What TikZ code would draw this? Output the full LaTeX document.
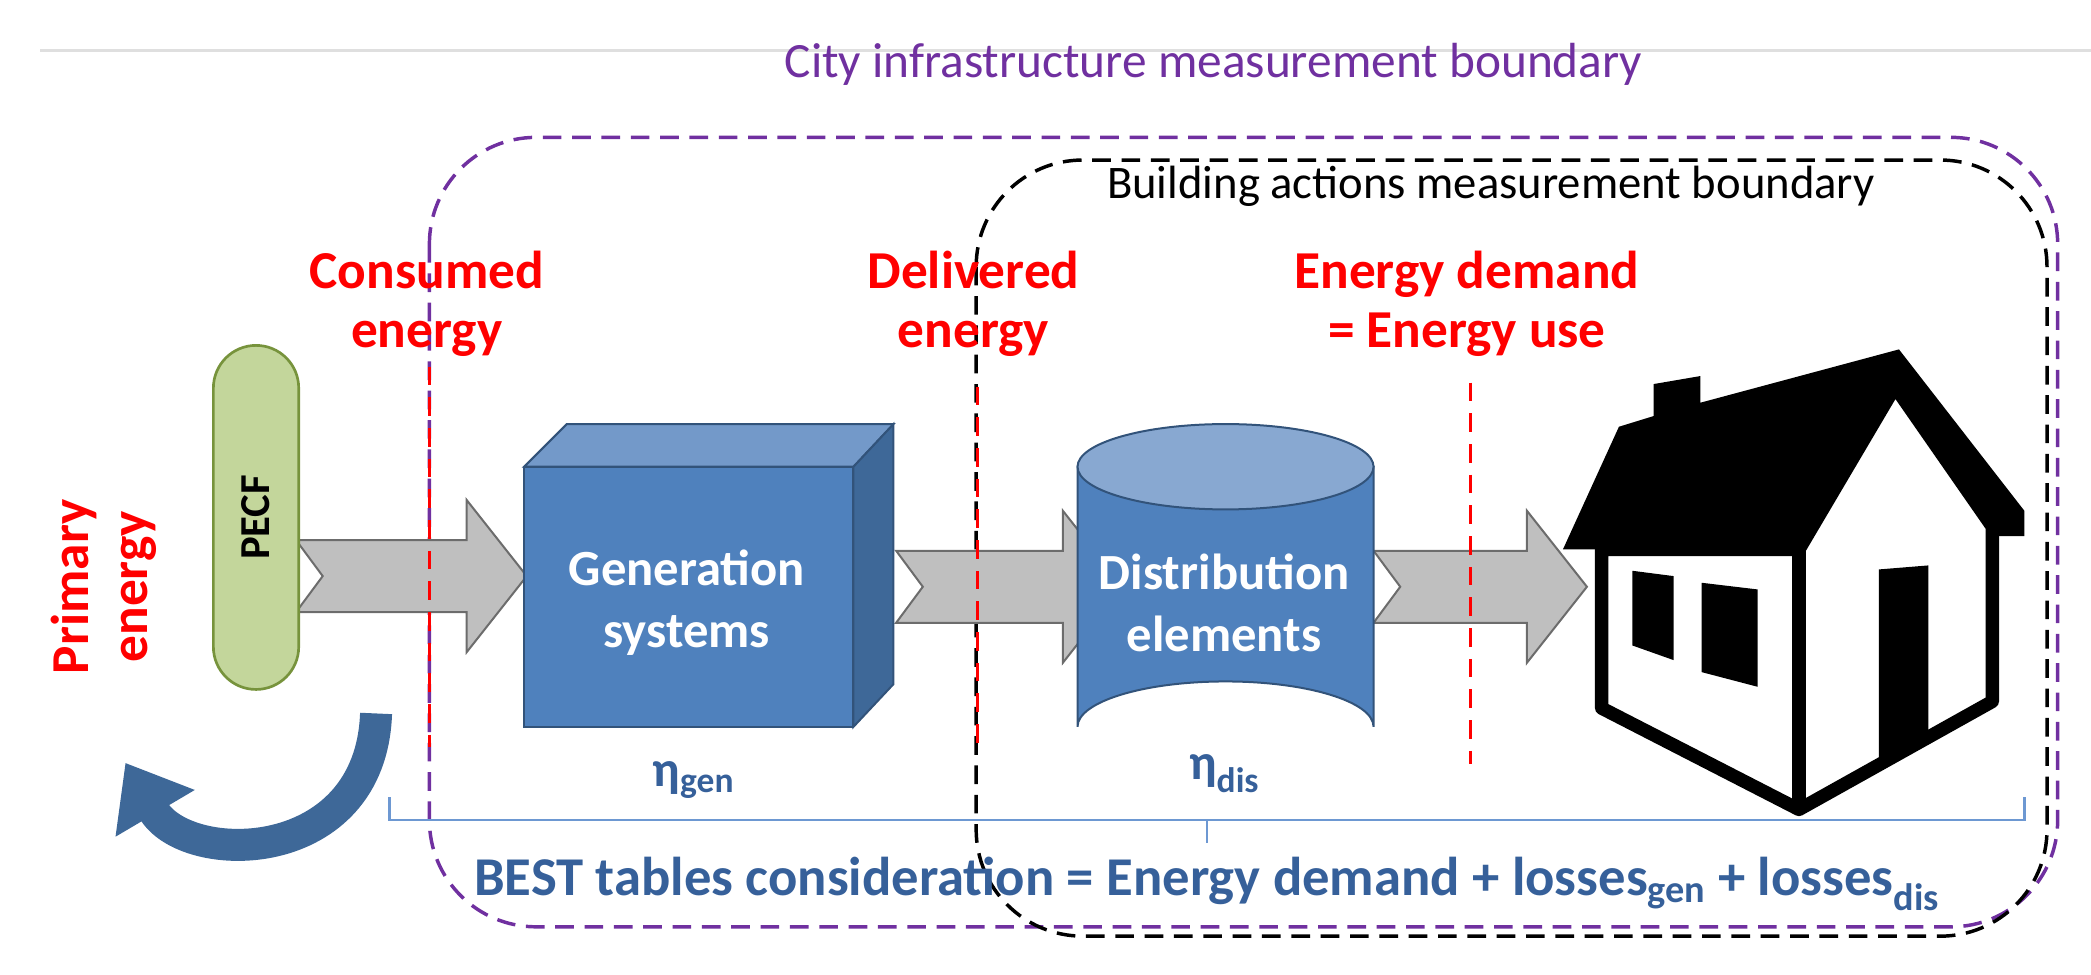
\documentclass[tikz,border=0pt]{standalone}
\usepackage{fontspec}
\setmainfont{Carlito}
\usetikzlibrary{arrows.meta}
\definecolor{purp}{HTML}{7030A0}
\definecolor{cubef}{HTML}{4F81BD}
\definecolor{cubet}{HTML}{7399C9}
\definecolor{cubes}{HTML}{3E6898}
\definecolor{etab}{HTML}{36609A}
\definecolor{brace}{HTML}{6D98D2}
\definecolor{pecff}{HTML}{C3D69B}
\definecolor{pecfd}{HTML}{77933C}
\newcommand\garrow[3]{\draw[garrow] ({#1},{#3-27}) -- ({#2-45},{#3-27}) -- ({#2-45},{#3-57}) -- ({#2},{#3}) -- ({#2-45},{#3+57}) -- ({#2-45},{#3+27}) -- ({#1},{#3+27}) -- ({#1+20},{#3}) -- cycle;}
\tikzset{
 garrow/.style={fill=gray!50, draw=gray!85!black, line width=1.5},
 bnd/.style={line width=2.6, dash pattern=on 14 off 8, rounded corners=80},
 redl/.style={red, line width=2.2, dash pattern=on 14 off 9},
 rlab/.style={text=red, font=\bfseries\fontsize{40}{44}\selectfont, align=center},
 wlab/.style={text=white, font=\bfseries\fontsize{38}{46}\selectfont, align=center},
 eta/.style={text=etab, font=\bfseries\fontsize{38}{40}\selectfont},
}
\begin{document}
\begin{tikzpicture}[x=1pt,y=-1pt]
\useasboundingbox (0,0) rectangle (1568,730.5);
\draw[gray!25, line width=2] (30,38) -- (1568,38);
\node[text=purp, font=\fontsize{37}{40}\selectfont] (city) at (910,48) {City infrastructure measurement boundary};
\draw[bnd, purp] (322,103) rectangle (1543,695);
\draw[bnd, black] (732,120) rectangle (1535,702);
\node[font=\fontsize{35}{38}\selectfont] (bld) at (1118,140) {Building actions measurement boundary};
\node[rlab] (cons) at (320,228) {Consumed\\energy};
\node[rlab] (deliv) at (730,228) {Delivered\\energy};
\node[rlab] (dem) at (1100,228) {Energy demand\\= Energy use};
% gray arrows
\garrow{222}{395}{432}
\garrow{672}{842}{440}
\garrow{1030}{1190}{440}
% red lines
\draw[redl] (322,275) -- (322,560);
\draw[redl] (733,290) -- (733,560);
\draw[redl] (1103,287) -- (1103,573);
% PECF
\node[draw=pecfd, line width=2, fill=pecff, rounded corners=32, minimum width=64, minimum height=258, inner sep=0] (pecf) at (192,388) {};
\node[rotate=90, font=\bfseries\fontsize{32}{36}\selectfont] (pecft) at (192,388) {PECF};
\node[rotate=90, rlab, align=center] (prim) at (78,440) {Primary\\energy};
\draw[line width=24, color=cubes, -{Triangle[width=66,length=44]}] (282,535) .. controls (278,650) and (140,650) .. (94,572);
% cube
\fill[cubet, draw=cubes!80!black, line width=1.5] (393,350) -- (425,318) -- (670,318) -- (640,350) -- cycle;
\fill[cubes, draw=cubes!80!black, line width=1.5] (640,350) -- (670,318) -- (670,513) -- (640,545) -- cycle;
\fill[cubef, draw=cubes!80!black, line width=1.5] (393,350) rectangle (640,545);
\node[wlab] (gen) at (515,452) {Generation\\systems};
\node[eta] (etag) at (520,585) {η\textsubscript{gen}};
% cylinder
\fill[cubef, draw=cubes!80!black, line width=1.5] (808,350) -- (808,545) arc[start angle=180, end angle=360, x radius=111, y radius=34] -- (1030,350) -- cycle;
\fill[cubet!85!white, draw=cubes!80!black, line width=1.5] (919,350) ellipse[x radius=111, y radius=32];
\node[wlab] (dis) at (918,452) {Distribution\\elements};
\node[eta] (etad) at (918,580) {η\textsubscript{dis}};
% house
\fill[black] (1172,412) -- (1214,320) -- (1240,312) -- (1240,288) -- (1275,282) -- (1275,302) -- (1424,262) -- (1518,383) -- (1518,402) -- (1494,402) -- (1421,290) -- (1349,412) -- cycle;
\draw[line width=10, line join=round, fill=white] (1201,412) -- (1201,531) -- (1349,607) -- (1494,526) -- (1494,395) -- (1421,290) -- (1349,412) -- cycle;
\draw[line width=10] (1349,412) -- (1349,607);
\fill (1224,428) -- (1255,432) -- (1255,495) -- (1224,484) -- cycle;
\fill (1276,437) -- (1318,442) -- (1318,515) -- (1276,504) -- cycle;
\fill (1409,427) -- (1446,424) -- (1446,553) -- (1409,573) -- cycle;
% brace
\draw[brace, line width=2] (292,598) -- (292,615) -- (1518,615) -- (1518,598);
\draw[brace, line width=2] (905,615) -- (905,632);
\node[text=etab, font=\bfseries\fontsize{41}{44}\selectfont] (best) at (905,663) {BEST tables consideration = Energy demand + losses\textsubscript{gen} + losses\textsubscript{dis}};
\end{tikzpicture}
\end{document}
